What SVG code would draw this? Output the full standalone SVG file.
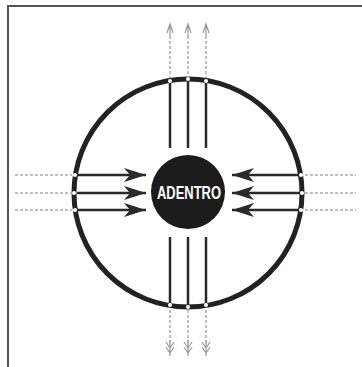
<svg xmlns="http://www.w3.org/2000/svg" width="362" height="367" viewBox="0 0 362 367">
<defs>
<style>
.frame{stroke:#555;stroke-width:2;fill:none}
.ring{stroke:#222;stroke-width:5;fill:none}
.solid{stroke:#2a2a2a;stroke-width:2.5;fill:none}
.dash{stroke:#aaa;stroke-width:1.5;stroke-dasharray:3 2;fill:none}
.mark{stroke:#999;stroke-width:1.2;fill:none}
.lbl{font-family:"Liberation Sans",Arial,sans-serif;font-weight:bold;fill:#fff}
</style>
<marker id="ah" viewBox="0 0 22 14" refX="22" refY="7" markerWidth="22" markerHeight="14" markerUnits="userSpaceOnUse" orient="auto">
<path d="M0,0 L22,7 L0,14 L6,7 Z" fill="#2a2a2a"/>
</marker>
</defs>
<rect width="362" height="367" fill="#fff"/>
<path class="frame" d="M8,367 L8,6 L362,6"/>
<g id="ring">
<circle class="ring" cx="188" cy="193" r="114"/>
</g>
<g id="connectors">
<line class="solid" x1="77" y1="175" x2="146" y2="175" marker-end="url(#ah)"/>
<line class="solid" x1="77" y1="193" x2="146" y2="193" marker-end="url(#ah)"/>
<line class="solid" x1="77" y1="210" x2="146" y2="210" marker-end="url(#ah)"/>
<line class="solid" x1="300" y1="175" x2="232" y2="175" marker-end="url(#ah)"/>
<line class="solid" x1="300" y1="193" x2="232" y2="193" marker-end="url(#ah)"/>
<line class="solid" x1="300" y1="210" x2="232" y2="210" marker-end="url(#ah)"/>
<line class="dash" x1="15" y1="175" x2="72" y2="175"/>
<line class="dash" x1="15" y1="193" x2="72" y2="193"/>
<line class="dash" x1="15" y1="210" x2="72" y2="210"/>
<line class="dash" x1="305" y1="175" x2="356" y2="175"/>
<line class="dash" x1="305" y1="193" x2="356" y2="193"/>
<line class="dash" x1="305" y1="210" x2="356" y2="210"/>
<line class="solid" x1="170" y1="83" x2="170" y2="148"/>
<line class="solid" x1="188" y1="81" x2="188" y2="148"/>
<line class="solid" x1="206" y1="83" x2="206" y2="148"/>
<line class="solid" x1="170" y1="237" x2="170" y2="303"/>
<line class="solid" x1="188" y1="237" x2="188" y2="305"/>
<line class="solid" x1="206" y1="237" x2="206" y2="303"/>
<line class="dash" x1="170" y1="36" x2="170" y2="78"/>
<line class="dash" x1="188" y1="36" x2="188" y2="76"/>
<line class="dash" x1="206" y1="36" x2="206" y2="78"/>
<line class="dash" x1="170" y1="310" x2="170" y2="345"/>
<line class="dash" x1="188" y1="310" x2="188" y2="345"/>
<line class="dash" x1="206" y1="310" x2="206" y2="345"/>
<path class="mark" d="M167,33 L170,24 L173,33 M170,24 L170,36"/>
<path class="mark" d="M185,33 L188,24 L191,33 M188,24 L188,36"/>
<path class="mark" d="M203,33 L206,24 L209,33 M206,24 L206,36"/>
<path class="mark" d="M166,342 L170,348 L174,342 M166,347 L170,353 L174,347 M170,340 L170,356"/>
<path class="mark" d="M184,342 L188,348 L192,342 M184,347 L188,353 L192,347 M188,340 L188,356"/>
<path class="mark" d="M202,342 L206,348 L210,342 M202,347 L206,353 L210,347 M206,340 L206,356"/>
</g>
<g id="gaps" fill="#fff">
<circle cx="75" cy="175" r="2"/>
<circle cx="74" cy="193" r="2"/>
<circle cx="75" cy="210" r="2"/>
<circle cx="301" cy="175" r="2"/>
<circle cx="302" cy="193" r="2"/>
<circle cx="301" cy="210" r="2"/>
<circle cx="170" cy="81" r="2"/>
<circle cx="188" cy="79" r="2"/>
<circle cx="206" cy="81" r="2"/>
<circle cx="170" cy="305" r="2"/>
<circle cx="188" cy="307" r="2"/>
<circle cx="206" cy="305" r="2"/>
</g>
<g id="adentro">
<circle cx="188" cy="192" r="37" fill="#1c1c1c"/>
<text class="lbl" x="189" y="199" font-size="18" text-anchor="middle" textLength="64" lengthAdjust="spacingAndGlyphs">ADENTRO</text>
</g>
</svg>
